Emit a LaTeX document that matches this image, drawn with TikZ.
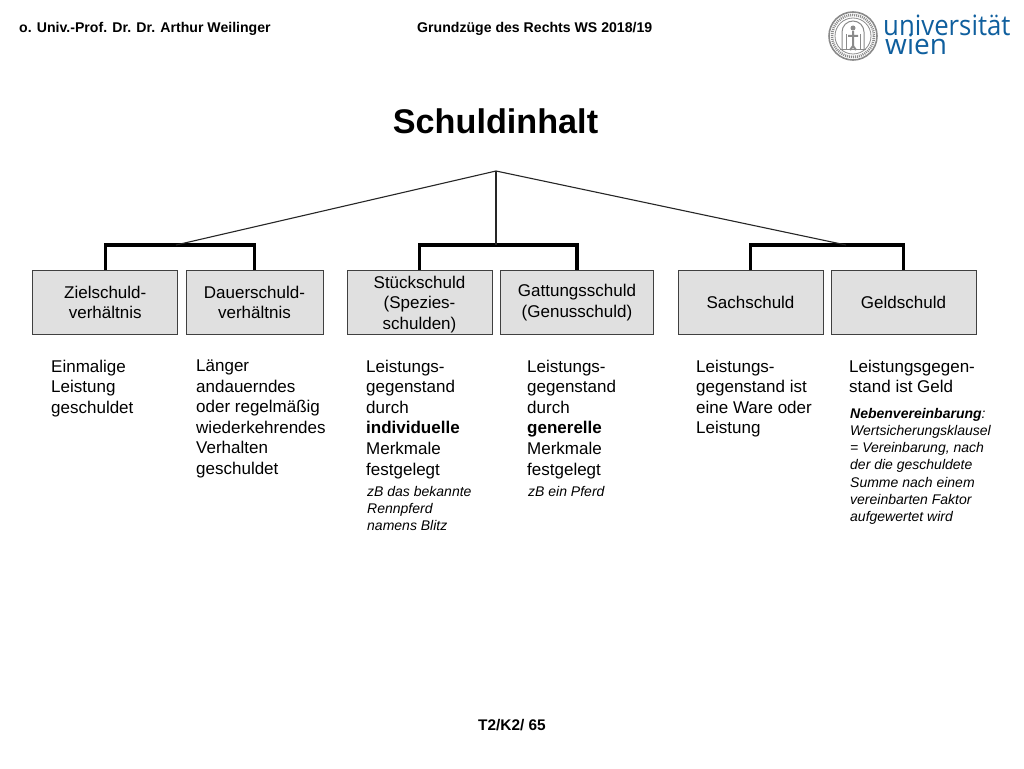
\documentclass[tikz,border=0pt]{standalone}
\usepackage{fontspec}
\setmainfont{Liberation Sans}
\newfontfamily\logofont{Open Sans}
\definecolor{boxfill}{HTML}{E0E0E0}
\definecolor{boxline}{HTML}{404040}
\definecolor{uniblue}{HTML}{0F5F9E}
\definecolor{sealgray}{HTML}{8A8A8A}
\newcommand{\fs}[2]{\fontsize{#1}{#2}\selectfont}
\tikzset{
  box/.style={draw=boxline,fill=boxfill,line width=1pt,minimum height=64pt,inner sep=0pt,align=center,font=\fs{17}{20.6}},
  body/.style={anchor=north west,inner sep=0pt,align=left,font=\fs{17}{20.6}},
  small/.style={anchor=north west,inner sep=0pt,align=left,font=\fs{14}{17.2}\itshape},
  head/.style={inner sep=0pt,font=\fs{14.1}{16}\bfseries},
  thin line/.style={draw=black!85,line width=1.1pt},
  bracket/.style={draw=black,line width=3.3pt,line cap=butt,line join=miter}
}
\begin{document}
\begin{tikzpicture}[x=1pt,y=-1pt]
\useasboundingbox (0,0) rectangle (1024,768);
\fill[white] (0,0) rectangle (1024,768);
\node[head,anchor=base west] (author) at (19,32.5) {o. Univ.-Prof. Dr. Dr. Arthur Weilinger};
\node[head,anchor=base west] (course) at (417,32.5) {Grundzüge des Rechts WS 2018/19};
\node[inner sep=0pt,anchor=base,font=\fs{34.2}{40}\bfseries] (title) at (495.5,133) {Schuldinhalt};
\node[head,anchor=base,font=\fs{15.4}{16}\bfseries] (foot) at (512,730) {T2/K2/ 65};
% logo
\draw[sealgray,line width=1.6pt,fill=white] (853,36) circle (24);
\draw[sealgray,line width=2.6pt,dash pattern=on 1pt off 1pt] (853,36) circle (21);
\draw[sealgray,line width=.8pt] (853,36) circle (18);
\draw[sealgray,line width=1pt] (842,50) -- (842,32) arc[start angle=180,end angle=0,x radius=11,y radius=-11] -- (864,50);
\draw[sealgray,line width=1pt] (846,50) -- (846,34) (860,50) -- (860,34) (840,50) -- (866,50);
\fill[sealgray] (853,28) circle (2.5);
\draw[sealgray,line width=2pt] (853,31) -- (853,46) (848,36) -- (858,36) (853,46) -- (850,50) (853,46) -- (856,50);
\node[inner sep=0pt,anchor=north west,align=left,text=uniblue,font=\fs{28}{17.5}\logofont] (uni) at (883,15) {\scalebox{.92}[1]{universität}\\[-3pt]\hspace*{2pt}wien};
% boxes
\node[box,minimum width=145pt] (z) at (105.25,302.5) {Zielschuld-\\verhältnis};
\node[box,minimum width=137pt] (d) at (254.5,302.5) {Dauerschuld-\\verhältnis};
\node[box,minimum width=145pt] (s) at (419.5,302.5) {\rule{0pt}{16pt}Stückschuld\\(Spezies-\\schulden)};
\node[box,minimum width=153.5pt] (g) at (577,302.5) {Gattungsschuld\\(Genusschuld)};
\node[box,minimum width=145pt] (a) at (750.5,302.5) {Sachschuld};
\node[box,minimum width=145pt] (e) at (903.5,302.5) {Geldschuld};
% connectors
\coordinate (apex) at (496,171);
\coordinate (j1) at (176,245);
\coordinate (j2) at (496,245);
\coordinate (j3) at (846,245);
\draw[bracket] (z.north) |- (j1) -| (d.north);
\draw[bracket] (s.north) |- (j2) -| (g.north);
\draw[bracket] (a.north) |- (j3) -| (e.north);
\draw[thin line] (j1) -- (apex);
\draw[thin line] (j2) -- (apex);
\draw[thin line] (j3) -- (apex);
% texts
\node[body] (t1) at (51,359.5) {Einmalige\\Leistung\\geschuldet};
\node[body] (t2) at (196,359.5) {Länger\\andauerndes\\oder regelmäßig\\wiederkehrendes\\Verhalten\\geschuldet};
\node[body] (t3) at (366,359.5) {Leistungs-\\gegenstand\\durch\\\textbf{individuelle}\\Merkmale\\festgelegt};
\node[small] (n3) at (367,486) {zB das bekannte\\Rennpferd\\namens Blitz};
\node[body] (t4) at (527,359.5) {Leistungs-\\gegenstand\\durch\\\textbf{generelle}\\Merkmale\\festgelegt};
\node[small] (n4) at (528,486) {zB ein Pferd};
\node[body] (t5) at (696,359.5) {Leistungs-\\gegenstand ist\\eine Ware oder\\Leistung};
\node[body] (t6) at (849,359.5) {Leistungsgegen-\\stand ist Geld};
\node[small] (n6) at (850,408) {\textbf{Nebenvereinbarung}:\\Wertsicherungsklausel\\= Vereinbarung, nach\\der die geschuldete\\Summe nach einem\\vereinbarten Faktor\\aufgewertet wird};
\end{tikzpicture}
\end{document}
